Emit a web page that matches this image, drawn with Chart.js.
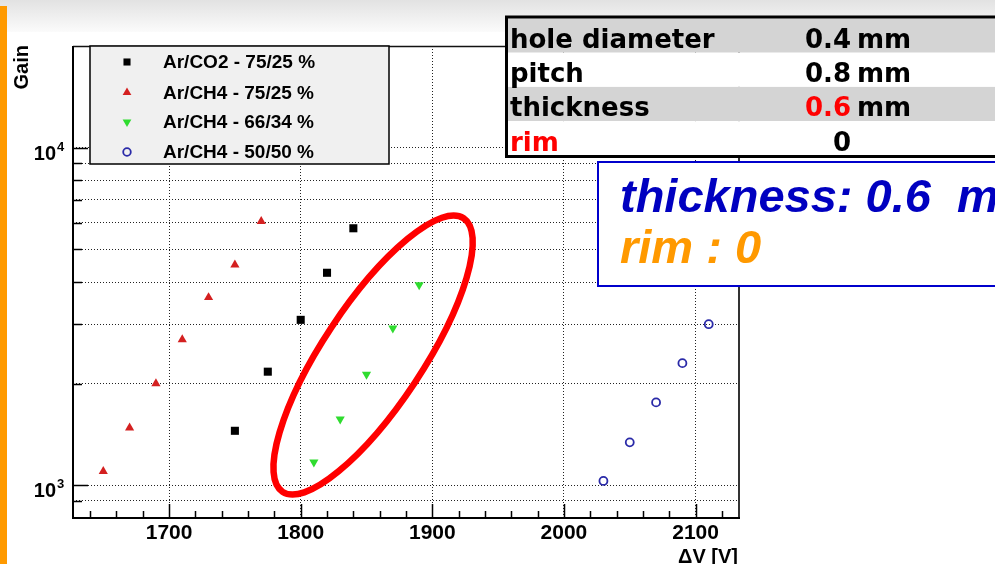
<!DOCTYPE html>
<html>
<head>
<meta charset="utf-8">
<title>Gain vs ΔV</title>
<script src="https://cdn.jsdelivr.net/npm/chart.js@4/dist/chart.umd.min.js"></script>
<style>
  html, body { margin: 0; padding: 0; background: #ffffff; }
  #wrap { width: 995px; height: 564px; position: relative; overflow: hidden; }
  canvas { display: block; }
</style>
</head>
<body>
<div id="wrap"><canvas id="gainChart" width="995" height="564"></canvas></div>
<script>
// ---- measured gain curves: ΔV [V] and gain for each gas mixture ----
const voltsCO2_75 = [1750, 1775, 1800, 1820, 1840];
const gainCO2_75  = [1450, 2170, 3090, 4260, 5770];

const voltsCH4_75 = [1650, 1670, 1690, 1710, 1730, 1750, 1770];
const gainCH4_75  = [1100, 1480, 2000, 2700, 3600, 4500, 6050];

const voltsCH4_66 = [1810, 1830, 1850, 1870, 1890];
const gainCH4_66  = [1170, 1570, 2130, 2920, 3920];

const voltsCH4_50 = [2030, 2050, 2070, 2090, 2110];
const gainCH4_50  = [1030, 1340, 1760, 2300, 3000];

const seriesLabels = ['Ar/CO2 - 75/25 %', 'Ar/CH4 - 75/25 %', 'Ar/CH4 - 66/34 %', 'Ar/CH4 - 50/50 %'];

// ---- axes ----
const voltRange = [1627, 2133];
const voltMajorTicks = [1700, 1800, 1900, 2000, 2100];
const voltMinorStep = 20;
const gainRange = [800, 20000];
const gainTicks = [900, 1000, 2000, 3000, 4000, 5000, 6000, 7000, 8000, 9000, 10000];
const gainDecades = [3, 4];          // labelled as 10^3, 10^4
const xTitle = 'ΔV [V]';
const yTitle = 'Gain';

// ---- GEM geometry table and note ----
const paramNames  = ['hole diameter', 'pitch', 'thickness', 'rim'];
const paramValues = ['0.4', '0.8', '0.6', '0'];
const paramUnits  = ['mm', 'mm', 'mm', ''];
const noteLines   = ['thickness: 0.6  mm', 'rim : 0'];

// highlighted group (Ar/CH4 66/34) — centre in data units
const highlightCentre = { v: 1855, g: 2430 };

const SANS = '"Liberation Sans", Arial, Helvetica, sans-serif';
const DEJAVU = '"DejaVu Sans", Verdana, sans-serif';

const pairs = (xs, ys) => xs.map((x, i) => ({ x: x, y: ys[i] }));

const datasets = [
  { label: seriesLabels[0], data: pairs(voltsCO2_75, gainCO2_75), pointStyle: 'rect',
    pointRadius: 5.7, backgroundColor: '#000000', borderColor: '#000000', borderWidth: 0 },
  { label: seriesLabels[1], data: pairs(voltsCH4_75, gainCH4_75), pointStyle: 'triangle',
    pointRadius: 5.3, backgroundColor: '#d42020', borderColor: '#d42020', borderWidth: 0 },
  { label: seriesLabels[2], data: pairs(voltsCH4_66, gainCH4_66), pointStyle: 'triangle', rotation: 180,
    pointRadius: 5.3, backgroundColor: '#2fdc2f', borderColor: '#2fdc2f', borderWidth: 0 },
  { label: seriesLabels[3], data: pairs(voltsCH4_50, gainCH4_50), pointStyle: 'circle',
    pointRadius: 4, backgroundColor: 'rgba(0,0,0,0)', borderColor: '#2a2aa8', borderWidth: 1.8 }
];

const minorVoltTicks = [];
for (let v = Math.ceil(voltRange[0] / voltMinorStep) * voltMinorStep; v <= voltRange[1]; v += voltMinorStep) {
  minorVoltTicks.push(v);
}

// page background, header band and side bar
const slideBackground = {
  id: 'slideBackground',
  beforeDraw(chart) {
    const ctx = chart.ctx;
    ctx.save();
    ctx.fillStyle = '#ffffff';
    ctx.fillRect(0, 0, chart.width, chart.height);
    const g = ctx.createLinearGradient(0, 0, 0, 32);
    g.addColorStop(0, '#e2e2e2');
    g.addColorStop(1, '#fbfbfb');
    ctx.fillStyle = g;
    ctx.fillRect(0, 0, chart.width, 32);
    ctx.fillStyle = '#ff9a00';
    ctx.fillRect(0, 6, 7, chart.height - 6);
    ctx.restore();
  }
};

// frame, inward ticks, labels, legend, highlight and info boxes
const decorations = {
  id: 'decorations',
  afterDraw(chart) {
    const ctx = chart.ctx;
    const a = chart.chartArea;
    const xs = chart.scales.x, ys = chart.scales.y;
    ctx.save();

    // inward tick marks
    ctx.strokeStyle = '#000';
    ctx.lineWidth = 1.5;
    ctx.beginPath();
    minorVoltTicks.forEach(v => {
      const px = Math.round(xs.getPixelForValue(v)) + 0.5;
      const len = voltMajorTicks.includes(v) ? 14 : 7;
      ctx.moveTo(px, a.bottom);
      ctx.lineTo(px, a.bottom - len);
    });
    gainTicks.forEach(v => {
      const py = Math.round(ys.getPixelForValue(v)) + 0.5;
      const isDecade = gainDecades.some(d => Math.pow(10, d) === v);
      ctx.moveTo(a.left, py);
      ctx.lineTo(a.left + (isDecade ? 15 : 9), py);
    });
    ctx.stroke();

    // frame
    ctx.lineWidth = 1.5;
    ctx.strokeStyle = '#111';
    ctx.beginPath();
    ctx.moveTo(a.left, a.top + 0.5); ctx.lineTo(a.right, a.top + 0.5);
    ctx.stroke();
    ctx.lineWidth = 2;
    ctx.strokeStyle = '#333';
    ctx.beginPath();
    ctx.moveTo(a.right, a.top); ctx.lineTo(a.right, a.bottom);
    ctx.stroke();
    ctx.strokeStyle = '#000';
    ctx.beginPath();
    ctx.moveTo(a.left, a.top); ctx.lineTo(a.left, a.bottom); ctx.lineTo(a.right + 1, a.bottom);
    ctx.stroke();

    // log-axis labels 10^n
    ctx.fillStyle = '#000';
    gainDecades.forEach(d => {
      const py = ys.getPixelForValue(Math.pow(10, d));
      ctx.font = 'bold 20px ' + SANS;
      ctx.textAlign = 'right';
      ctx.textBaseline = 'alphabetic';
      ctx.fillText('10', 56, py + 12);
      ctx.font = 'bold 13px ' + SANS;
      ctx.textAlign = 'left';
      ctx.fillText(String(d), 57, py + 3);
    });

    // axis titles
    ctx.font = 'bold 20px ' + SANS;
    ctx.textAlign = 'right';
    ctx.textBaseline = 'alphabetic';
    ctx.fillText(xTitle, a.right - 1, 563);
    ctx.save();
    ctx.translate(28, a.top - 1);
    ctx.rotate(-Math.PI / 2);
    ctx.textAlign = 'right';
    ctx.fillText(yTitle, 0, 0);
    ctx.restore();

    // legend
    const lx = 90, ly = a.top, lw = 299, lh = 118;
    ctx.fillStyle = '#f0f0f0';
    ctx.fillRect(lx, ly, lw, lh);
    ctx.strokeStyle = '#000';
    ctx.lineWidth = 1.5;
    ctx.strokeRect(lx, ly, lw, lh);
    const rowY = [62, 92.5, 122, 152];
    chart.data.datasets.forEach((ds, i) => {
      ctx.fillStyle = ds.backgroundColor;
      ctx.strokeStyle = ds.borderColor;
      ctx.lineWidth = ds.borderWidth;
      Chart.helpers.drawPoint(ctx, {
        pointStyle: ds.pointStyle,
        radius: ds.pointStyle === 'rect' ? 5 : ds.pointRadius * 0.95,
        rotation: ds.rotation || 0,
        borderWidth: ds.borderWidth
      }, 127, rowY[i]);
      ctx.fillStyle = '#000';
      ctx.font = 'bold 19px ' + SANS;
      ctx.textAlign = 'left';
      ctx.textBaseline = 'middle';
      ctx.fillText(ds.label, 163, rowY[i] + 1);
    });

    // highlight ring around the 66/34 points
    const cx = xs.getPixelForValue(highlightCentre.v);
    const cy = ys.getPixelForValue(highlightCentre.g);
    ctx.strokeStyle = '#ff0000';
    ctx.lineWidth = 6.5;
    ctx.beginPath();
    ctx.ellipse(cx, cy, 164, 50, -56.5 * Math.PI / 180, 0, Math.PI * 2);
    ctx.stroke();

    // geometry table
    const tx = 508, tTop = 18.5, rowH = 34.2;
    paramNames.forEach((name, i) => {
      ctx.fillStyle = i % 2 === 0 ? '#d4d4d4' : '#ffffff';
      ctx.fillRect(tx, tTop + i * rowH, 995 - tx, rowH);
    });
    ctx.strokeStyle = '#000';
    ctx.lineWidth = 3;
    ctx.strokeRect(506.5, 17, 700, 139.5);
    const baselines = [48, 82, 116, 151];
    ctx.font = 'bold 26px ' + DEJAVU;
    ctx.textBaseline = 'alphabetic';
    paramNames.forEach((name, i) => {
      ctx.textAlign = 'left';
      ctx.fillStyle = name === 'rim' ? '#ff0000' : '#000';
      ctx.fillText(name, 510, baselines[i]);
      ctx.textAlign = 'right';
      ctx.fillStyle = name === 'thickness' ? '#ff0000' : '#000';
      ctx.fillText(paramValues[i], 851, baselines[i]);
      ctx.textAlign = 'left';
      ctx.fillStyle = '#000';
      if (paramUnits[i]) ctx.fillText(paramUnits[i], 857, baselines[i]);
    });

    // note box
    ctx.fillStyle = '#ffffff';
    ctx.fillRect(598, 162, 420, 124);
    ctx.strokeStyle = '#0000cc';
    ctx.lineWidth = 2;
    ctx.strokeRect(598, 162, 420, 124);
    ctx.font = 'italic bold 47px ' + SANS;
    ctx.textAlign = 'left';
    ctx.fillStyle = '#0000c0';
    ctx.fillText(noteLines[0], 620, 212);
    ctx.fillStyle = '#ff9900';
    ctx.fillText(noteLines[1], 620, 263);

    ctx.restore();
  }
};

new Chart(document.getElementById('gainChart'), {
  type: 'scatter',
  data: { datasets: datasets },
  options: {
    responsive: false,
    animation: false,
    events: [],
    layout: { padding: { top: 46, right: 256, bottom: 0, left: 0 } },
    plugins: { legend: { display: false }, tooltip: { enabled: false } },
    scales: {
      x: {
        type: 'linear',
        min: voltRange[0],
        max: voltRange[1],
        afterBuildTicks: s => { s.ticks = minorVoltTicks.map(v => ({ value: v })); },
        afterFit: s => { s.height = 46; },
        ticks: {
          autoSkip: false,
          maxRotation: 0,
          padding: 3,
          color: '#000',
          font: { family: SANS, size: 21, weight: 'bold' },
          callback: v => voltMajorTicks.includes(v) ? String(v) : ''
        },
        grid: {
          drawTicks: false,
          lineWidth: 1,
          color: c => (c.tick && voltMajorTicks.includes(c.tick.value)) ? '#222' : 'rgba(0,0,0,0)'
        },
        border: { display: false, dash: [1, 2] }
      },
      y: {
        type: 'logarithmic',
        min: gainRange[0],
        max: gainRange[1],
        afterBuildTicks: s => { s.ticks = gainTicks.map(v => ({ value: v })); },
        afterFit: s => { s.width = 73; },
        ticks: { display: false },
        grid: { drawTicks: false, lineWidth: 1, color: '#222' },
        border: { display: false, dash: [1, 2] }
      }
    }
  },
  plugins: [slideBackground, decorations]
});
</script>
</body>
</html>
